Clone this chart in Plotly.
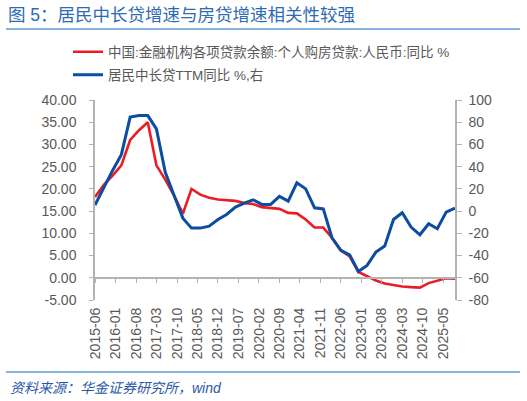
import plotly.graph_objects as go

# ---- data ----
dates = [
    "2015-06-01", "2015-09-01", "2015-12-01",
    "2016-03-01", "2016-06-01", "2016-09-01", "2016-12-01",
    "2017-03-01", "2017-06-01", "2017-09-01", "2017-12-01",
    "2018-03-01", "2018-06-01", "2018-09-01", "2018-12-01",
    "2019-03-01", "2019-06-01", "2019-09-01", "2019-12-01",
    "2020-03-01", "2020-06-01", "2020-09-01", "2020-12-01",
    "2021-03-01", "2021-06-01", "2021-09-01", "2021-12-01",
    "2022-03-01", "2022-06-01", "2022-09-01", "2022-12-01",
    "2023-03-01", "2023-06-01", "2023-09-01", "2023-12-01",
    "2024-03-01", "2024-06-01", "2024-09-01", "2024-12-01",
    "2025-03-01", "2025-06-01", "2025-09-01",
]
mortgage_yoy = [
    18.2, 20.9, 23.0,
    25.3, 31.0, 33.2, 35.0,
    25.3, 22.1, 18.5, 14.4,
    20.0, 18.7, 18.0, 17.6,
    17.5, 17.3, 16.8, 16.6,
    15.9, 15.7, 15.5, 14.6,
    14.5, 13.1, 11.3, 11.3,
    9.0, 6.2, 4.8, 1.3,
    0.3, -0.6, -1.3, -1.7,
    -1.95, -2.1, -2.2, -1.2,
    -0.7, -0.1, -0.2,
]
mlt_loan_ttm_yoy = [
    5.5, 21.6, 36.6,
    50.8, 84.6, 86.0, 86.0,
    74.0, 35.0, 14.0, -6.3,
    -15.3, -15.3, -13.5, -7.5,
    -3.0, 3.6, 7.2, 10.2,
    6.0, 6.0, 13.2, 9.0,
    25.5, 20.0, 3.0, 2.0,
    -24.0, -35.4, -39.3, -54.3,
    -48.9, -36.9, -31.5, -7.5,
    -1.5, -14.4, -21.3, -11.4,
    -15.9, -0.9, 2.7,
]
name_red = "中国:金融机构各项贷款余额:个人购房贷款:人民币:同比 %"
name_blue = "居民中长贷TTM同比 %,右"
title_text = "图 5：居民中长贷增速与房贷增速相关性较强"
source_text = "资料来源：华金证券研究所，wind"

left_ticks = [-5, 0, 5, 10, 15, 20, 25, 30, 35, 40]
left_labels = ["-5.00", "0.00", "5.00", "10.00", "15.00", "20.00",
               "25.00", "30.00", "35.00", "40.00"]
right_ticks = [-80, -60, -40, -20, 0, 20, 40, 60, 80, 100]
right_labels = ["-80", "-60", "-40", "-20", "0", "20", "40", "60", "80", "100"]

left_range = [-5, 40]
right_range = [-80, 100]
x_range = ["2015-06-01", "2025-09-01"]

# ---- styles ----
RED = "#ec1c24"
BLUE = "#0c4da2"
AXIS = "#b3b3b3"
TXT = "#595959"
TITLE_BLUE = "#2e6bb3"
RULE_BLUE = "#5b9bd5"
FONT = "Liberation Sans, Noto Sans CJK SC, sans-serif"

W, H = 527, 401
L, R, T, B = 95, 72, 100, 101
ph = H - T - B
pw = W - L - R

def py(pix):
    return (H - B - pix) / ph

def px(pix):
    return (pix - L) / pw

fig = go.Figure()
fig.add_trace(go.Scatter(
    x=dates, y=mortgage_yoy, name=name_red, mode="lines",
    line=dict(color=RED, width=2.6), xaxis="x", yaxis="y", legend="legend",
))
fig.add_trace(go.Scatter(
    x=dates, y=mlt_loan_ttm_yoy, name=name_blue, mode="lines",
    line=dict(color=BLUE, width=3), xaxis="x", yaxis="y2", legend="legend2",
))
# empty helper trace so the zero-level axis (x2) is drawn
fig.add_trace(go.Scatter(x=[], y=[], xaxis="x2", yaxis="y", showlegend=False,
                         hoverinfo="skip"))

zero_pos = (0 - left_range[0]) / (left_range[1] - left_range[0])

fig.update_layout(
    width=W, height=H,
    margin=dict(l=L, r=R, t=T, b=B),
    paper_bgcolor="white", plot_bgcolor="white",
    font=dict(family=FONT, color=TXT, size=14),
    title=dict(text=title_text, xref="container", yref="container",
               x=8 / W, y=1 - 15 / H, xanchor="left", yanchor="middle",
               font=dict(size=17.5, color=TITLE_BLUE, family=FONT)),
    xaxis=dict(
        type="date", range=x_range, tick0="2015-06-01", dtick="M7",
        tickformat="%Y-%m", tickangle=-90, showgrid=False, zeroline=False,
        showline=False, ticks="", ticklabelstandoff=4,
        tickfont=dict(size=14, color=TXT),
    ),
    xaxis2=dict(
        type="date", range=x_range, tick0="2015-06-01", dtick="M7",
        overlaying="x", anchor="free", position=zero_pos,
        showticklabels=False, showgrid=False, zeroline=False,
        showline=True, linecolor=AXIS, linewidth=1.5,
        ticks="outside", ticklen=4, tickcolor=AXIS, tickwidth=1.2,
    ),
    yaxis=dict(
        range=left_range, tickmode="array", tickvals=left_ticks,
        ticktext=left_labels,
        showgrid=False, zeroline=False, showline=True, linecolor=AXIS,
        linewidth=1.5, ticks="outside", ticklen=4, tickcolor=AXIS,
        tickwidth=1.2, ticklabelstandoff=10, tickfont=dict(size=14, color=TXT),
    ),
    yaxis2=dict(
        range=right_range, tickmode="array", tickvals=right_ticks,
        ticktext=right_labels, overlaying="y", side="right",
        anchor="x", showgrid=False, zeroline=False, showline=True,
        linecolor=AXIS, linewidth=1.5, ticks="outside", ticklen=5,
        tickcolor=AXIS, tickwidth=1.2, ticklabelstandoff=4,
        tickfont=dict(size=14, color=TXT),
    ),
    legend=dict(x=px(68), y=py(52), xanchor="left", yanchor="middle",
                bgcolor="rgba(0,0,0,0)", font=dict(size=13.5, color=TXT),
                itemwidth=30),
    legend2=dict(x=px(68), y=py(75), xanchor="left", yanchor="middle",
                 bgcolor="rgba(0,0,0,0)", font=dict(size=13.5, color=TXT),
                 itemwidth=30),
    showlegend=True,
)

fig.add_shape(type="line", xref="paper", yref="paper",
              x0=px(6), x1=px(520), y0=py(29), y1=py(29),
              line=dict(color=RULE_BLUE, width=1.5))
fig.add_shape(type="line", xref="paper", yref="paper",
              x0=px(6), x1=px(520), y0=py(372), y1=py(372),
              line=dict(color=RULE_BLUE, width=1.5))
fig.add_annotation(text="<i>" + source_text + "</i>", xref="paper", yref="paper",
                   x=px(8), y=py(388), xanchor="left", yanchor="middle",
                   showarrow=False, font=dict(size=14, color="#2a58a8", family=FONT))

fig.write_html("out.html")
